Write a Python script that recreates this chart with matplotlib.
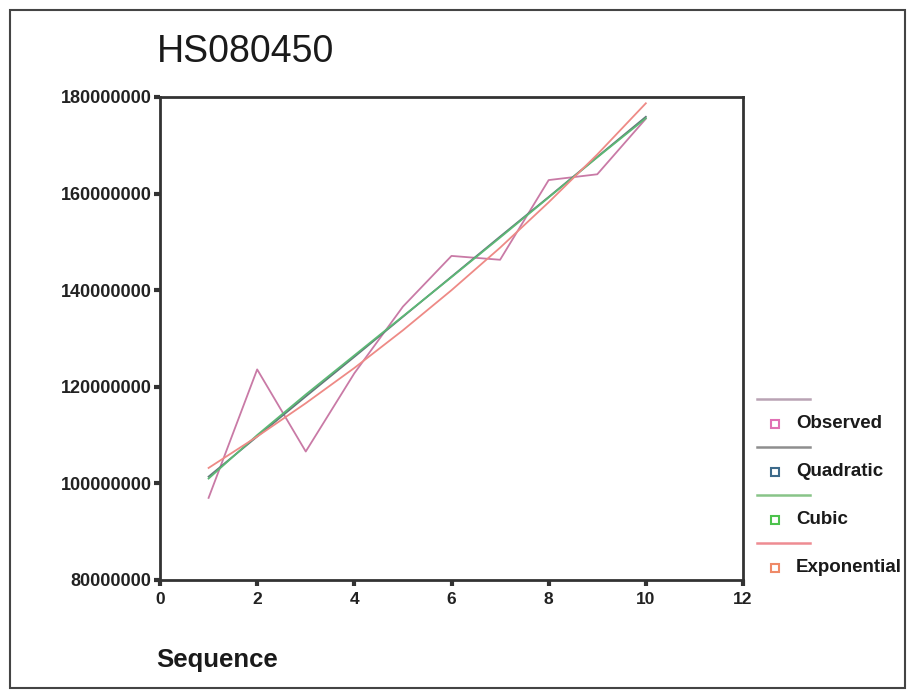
import matplotlib
matplotlib.use("Agg")
import matplotlib.pyplot as plt
from matplotlib.lines import Line2D
from matplotlib.patches import Rectangle

plt.rcParams['font.family'] = ['Liberation Sans', 'DejaVu Sans']

# Werte (Millionen)
sequence = [1, 2, 3, 4, 5, 6, 7, 8, 9, 10]
observed = [97.0, 123.6, 106.6, 122.8, 136.6, 147.1, 146.3, 162.8, 164.0, 175.5]
quadratic = [101.4, 109.7, 118.0, 126.2, 134.5, 142.8, 151.1, 159.3, 167.6, 175.9]
cubic = [101.0, 110.0, 118.4, 126.5, 134.6, 142.7, 150.9, 159.2, 167.5, 175.6]
exponential = [103.2, 109.7, 116.6, 123.9, 131.7, 140.0, 148.8, 158.2, 168.1, 178.7]

y_ticks = [80000000, 100000000, 120000000, 140000000, 160000000, 180000000]
x_ticks = [0, 2, 4, 6, 8, 10, 12]

series = [
    ('Observed', observed, '#c97aa6', '#b9a3b4', '#e070b4'),
    ('Quadratic', quadratic, '#62787a', '#8e8e8e', '#3d6a8a'),
    ('Cubic', cubic, '#5cb875', '#88c488', '#4cc24c'),
    ('Exponential', exponential, '#ee8a86', '#ee8c92', '#ef8a68'),
]

W, H = 908, 691
fig = plt.figure(figsize=(W / 100, H / 100), dpi=100)
ax = fig.add_axes([160 / W, 1 - 580 / H, (743 - 160) / W, (580 - 97) / H])

for name, vals, col, _, _ in series:
    ax.plot(sequence, [v * 1e6 for v in vals], color=col, lw=1.3)

ax.set_xlim(0, 12)
ax.set_ylim(80000000, 180000000)
ax.set_xticks(x_ticks)
ax.set_yticks(y_ticks)
ax.set_xticklabels([str(t) for t in x_ticks], fontsize=12.5, fontweight='bold', color='#222222')
ax.set_yticklabels([str(t) for t in y_ticks], fontsize=13, fontweight='bold', color='#222222')
ax.tick_params(direction='out', length=4, width=3, color='#333333', pad=2)
ax.tick_params(axis='x', pad=5)
for s in ax.spines.values():
    s.set_color('#333333')
    s.set_linewidth(2)

# Titel und Achsenbeschriftung
fig.text(157 / W, 1 - 52 / H, 'HS080450', fontsize=27, color='#1a1a1a', va='center', ha='left')
fig.text(156 / W, 1 - 660 / H, 'Sequence', fontsize=18.5, fontweight='bold', color='#1a1a1a',
         va='center', ha='left')

# Legende im SPSS-Stil: Linie, darunter Quadrat + Text
legend_y = [399, 447, 495, 543]
for (name, vals, col, lcol, mcol), ly in zip(series, legend_y):
    fig.add_artist(Line2D([757 / W, 810 / W], [1 - ly / H, 1 - ly / H], color=lcol, lw=1.8,
                          transform=fig.transFigure))
    fig.add_artist(Line2D([775 / W], [1 - (ly + 25) / H], marker='s', ms=6, mfc='white', mec=mcol,
                          mew=1.5, ls='none', transform=fig.transFigure))
    fig.text(796 / W, 1 - (ly + 25) / H, name, fontsize=13.5, fontweight='bold', color='#1a1a1a',
             va='center', ha='left')

# Rahmen um das Bild
fig.add_artist(Rectangle((10 / W, 1 - 688 / H), (905 - 10) / W, (688 - 10) / H, fill=False,
                         ec='#444444', lw=1.5, transform=fig.transFigure))

fig.savefig('out.png', dpi=100)
